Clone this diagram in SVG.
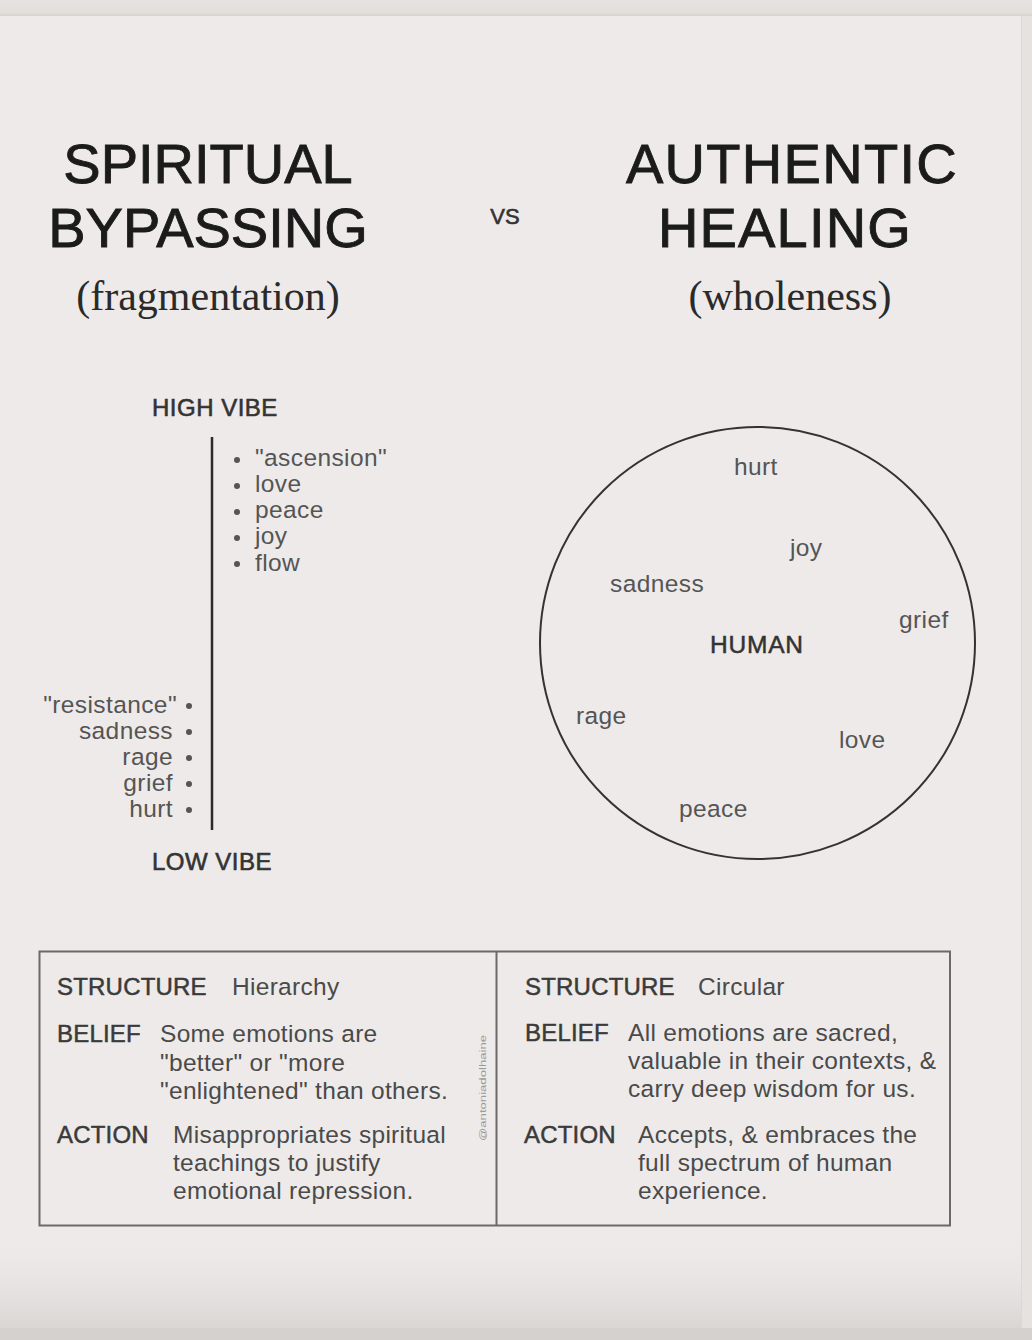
<svg xmlns="http://www.w3.org/2000/svg" width="1032" height="1340" viewBox="0 0 1032 1340">
  <defs>
    <linearGradient id="bottomFade" x1="0" y1="0" x2="0" y2="1">
      <stop offset="0" stop-color="#eeeae8" stop-opacity="0"/>
      <stop offset="1" stop-color="#d9d5d3"/>
    </linearGradient>
    <linearGradient id="topBand" x1="0" y1="0" x2="0" y2="1">
      <stop offset="0" stop-color="#e6e2e1"/>
      <stop offset="0.8" stop-color="#e2dfdb"/>
      <stop offset="1" stop-color="#d6d3cd"/>
    </linearGradient>
    <style>
      .title { font-family: "Liberation Sans", Arial, sans-serif; font-size: 56px; fill: #1b1b1b; stroke: #1b1b1b; stroke-width: 0.9px; }
      .sub { font-family: "Liberation Serif", "Times New Roman", serif; font-size: 42px; fill: #2a2a2a; }
      .vs { font-family: "Liberation Sans", Arial, sans-serif; font-size: 22px; fill: #333; stroke: #333; stroke-width: 0.6px; }
      .head { font-family: "Liberation Sans", Arial, sans-serif; font-size: 24px; letter-spacing: 0.5px; fill: #333; stroke: #333; stroke-width: 0.6px; }
      .lbl { font-family: "Liberation Sans", Arial, sans-serif; font-size: 24.5px; letter-spacing: 0.4px; fill: #555; }
      .human { font-family: "Liberation Sans", Arial, sans-serif; font-size: 24.5px; letter-spacing: 0.8px; fill: #333; stroke: #333; stroke-width: 0.5px; }
      .key { font-family: "Liberation Sans", Arial, sans-serif; font-size: 24px; letter-spacing: 0.2px; fill: #3a3a3a; stroke: #3a3a3a; stroke-width: 0.5px; }
      .txt { font-family: "Liberation Sans", Arial, sans-serif; font-size: 24.5px; letter-spacing: 0.3px; fill: #4a4a4a; }
      .wm { font-family: "Liberation Sans", Arial, sans-serif; font-size: 9px; fill: #9a9a9a; }
      .bullet { fill: #555; }
    </style>
  </defs>

  <!-- background -->
  <rect x="0" y="0" width="1032" height="1340" fill="#eeeae9"/>
  <rect x="0" y="1225" width="1032" height="105" fill="url(#bottomFade)"/>
  <rect x="0" y="1328" width="1032" height="12" fill="#d5d1cf"/>
  <rect x="0" y="0" width="1032" height="16" fill="url(#topBand)"/>
  <rect x="1021" y="16" width="11" height="1312" fill="#e6e2e0"/>
  <line x1="1021.5" y1="16" x2="1021.5" y2="1328" stroke="#dcd8d5" stroke-width="1"/>

  <!-- titles -->
  <g id="title-left">
    <text class="title" x="208" y="183" text-anchor="middle">SPIRITUAL</text>
    <text class="title" x="208" y="247" text-anchor="middle">BYPASSING</text>
    <text class="sub" x="208" y="310" text-anchor="middle">(fragmentation)</text>
  </g>
  <g id="vs">
    <text class="vs" x="505" y="224" text-anchor="middle">VS</text>
  </g>
  <g id="title-right">
    <text class="title" x="792" y="183" text-anchor="middle" font-size="57" letter-spacing="1.3">AUTHENTIC</text>
    <text class="title" x="785" y="247" text-anchor="middle" font-size="57" letter-spacing="1.2">HEALING</text>
    <text class="sub" x="790" y="310" text-anchor="middle">(wholeness)</text>
  </g>

  <!-- hierarchy -->
  <g id="connectors">
    <line x1="212" y1="437" x2="212" y2="830" stroke="#2a2a2a" stroke-width="2.5"/>
  </g>
  <g id="high-vibe">
    <text class="head" x="152" y="416">HIGH VIBE</text>
  </g>
  <g id="high-list">
    <circle class="bullet" cx="237" cy="460" r="3"/>
    <text class="lbl" x="255" y="466">"ascension"</text>
    <circle class="bullet" cx="237" cy="486" r="3"/>
    <text class="lbl" x="255" y="492">love</text>
    <circle class="bullet" cx="237" cy="512" r="3"/>
    <text class="lbl" x="255" y="518">peace</text>
    <circle class="bullet" cx="237" cy="538" r="3"/>
    <text class="lbl" x="255" y="544">joy</text>
    <circle class="bullet" cx="237" cy="564" r="3"/>
    <text class="lbl" x="255" y="571">flow</text>
  </g>
  <g id="low-list">
    <text class="lbl" x="177" y="713" text-anchor="end">"resistance"</text>
    <circle class="bullet" cx="189" cy="706" r="3"/>
    <text class="lbl" x="173" y="739" text-anchor="end">sadness</text>
    <circle class="bullet" cx="189" cy="732" r="3"/>
    <text class="lbl" x="173" y="765" text-anchor="end">rage</text>
    <circle class="bullet" cx="189" cy="758" r="3"/>
    <text class="lbl" x="173" y="791" text-anchor="end">grief</text>
    <circle class="bullet" cx="189" cy="784" r="3"/>
    <text class="lbl" x="173" y="817" text-anchor="end">hurt</text>
    <circle class="bullet" cx="189" cy="810" r="3"/>
  </g>
  <g id="low-vibe">
    <text class="head" x="152" y="870">LOW VIBE</text>
  </g>

  <!-- circle -->
  <g id="circle">
    <ellipse cx="757.5" cy="643" rx="217.5" ry="216" fill="none" stroke="#333" stroke-width="2"/>
    <text class="lbl" x="734" y="475">hurt</text>
    <text class="lbl" x="790" y="556">joy</text>
    <text class="lbl" x="610" y="592">sadness</text>
    <text class="lbl" x="899" y="628">grief</text>
    <text class="human" x="710" y="653">HUMAN</text>
    <text class="lbl" x="576" y="724">rage</text>
    <text class="lbl" x="839" y="748">love</text>
    <text class="lbl" x="679" y="817">peace</text>
  </g>

  <!-- table -->
  <g id="table">
    <rect x="39.5" y="951.5" width="910.5" height="274" fill="none" stroke="#6a6a6a" stroke-width="2"/>
    <line x1="496.5" y1="951.5" x2="496.5" y2="1225.5" stroke="#6a6a6a" stroke-width="2"/>
    <text class="wm" transform="translate(486 1141) rotate(-90)" textLength="106" lengthAdjust="spacingAndGlyphs">@antoniadolhaine</text>
  </g>
  <g id="left-cell">
    <text class="key" x="57" y="995">STRUCTURE</text>
    <text class="txt" x="232" y="995">Hierarchy</text>
    <text class="key" x="57" y="1042">BELIEF</text>
    <text class="txt" x="160" y="1042">Some emotions are</text>
    <text class="txt" x="160" y="1071">"better" or "more</text>
    <text class="txt" x="160" y="1099">"enlightened" than others.</text>
    <text class="key" x="57" y="1143">ACTION</text>
    <text class="txt" x="173" y="1143">Misappropriates spiritual</text>
    <text class="txt" x="173" y="1171">teachings to justify</text>
    <text class="txt" x="173" y="1199">emotional repression.</text>
  </g>
  <g id="right-cell">
    <text class="key" x="525" y="995">STRUCTURE</text>
    <text class="txt" x="698" y="995">Circular</text>
    <text class="key" x="525" y="1041">BELIEF</text>
    <text class="txt" x="628" y="1041">All emotions are sacred,</text>
    <text class="txt" x="628" y="1069">valuable in their contexts, &amp;</text>
    <text class="txt" x="628" y="1097">carry deep wisdom for us.</text>
    <text class="key" x="524" y="1143">ACTION</text>
    <text class="txt" x="638" y="1143">Accepts, &amp; embraces the</text>
    <text class="txt" x="638" y="1171">full spectrum of human</text>
    <text class="txt" x="638" y="1199">experience.</text>
  </g>
</svg>
